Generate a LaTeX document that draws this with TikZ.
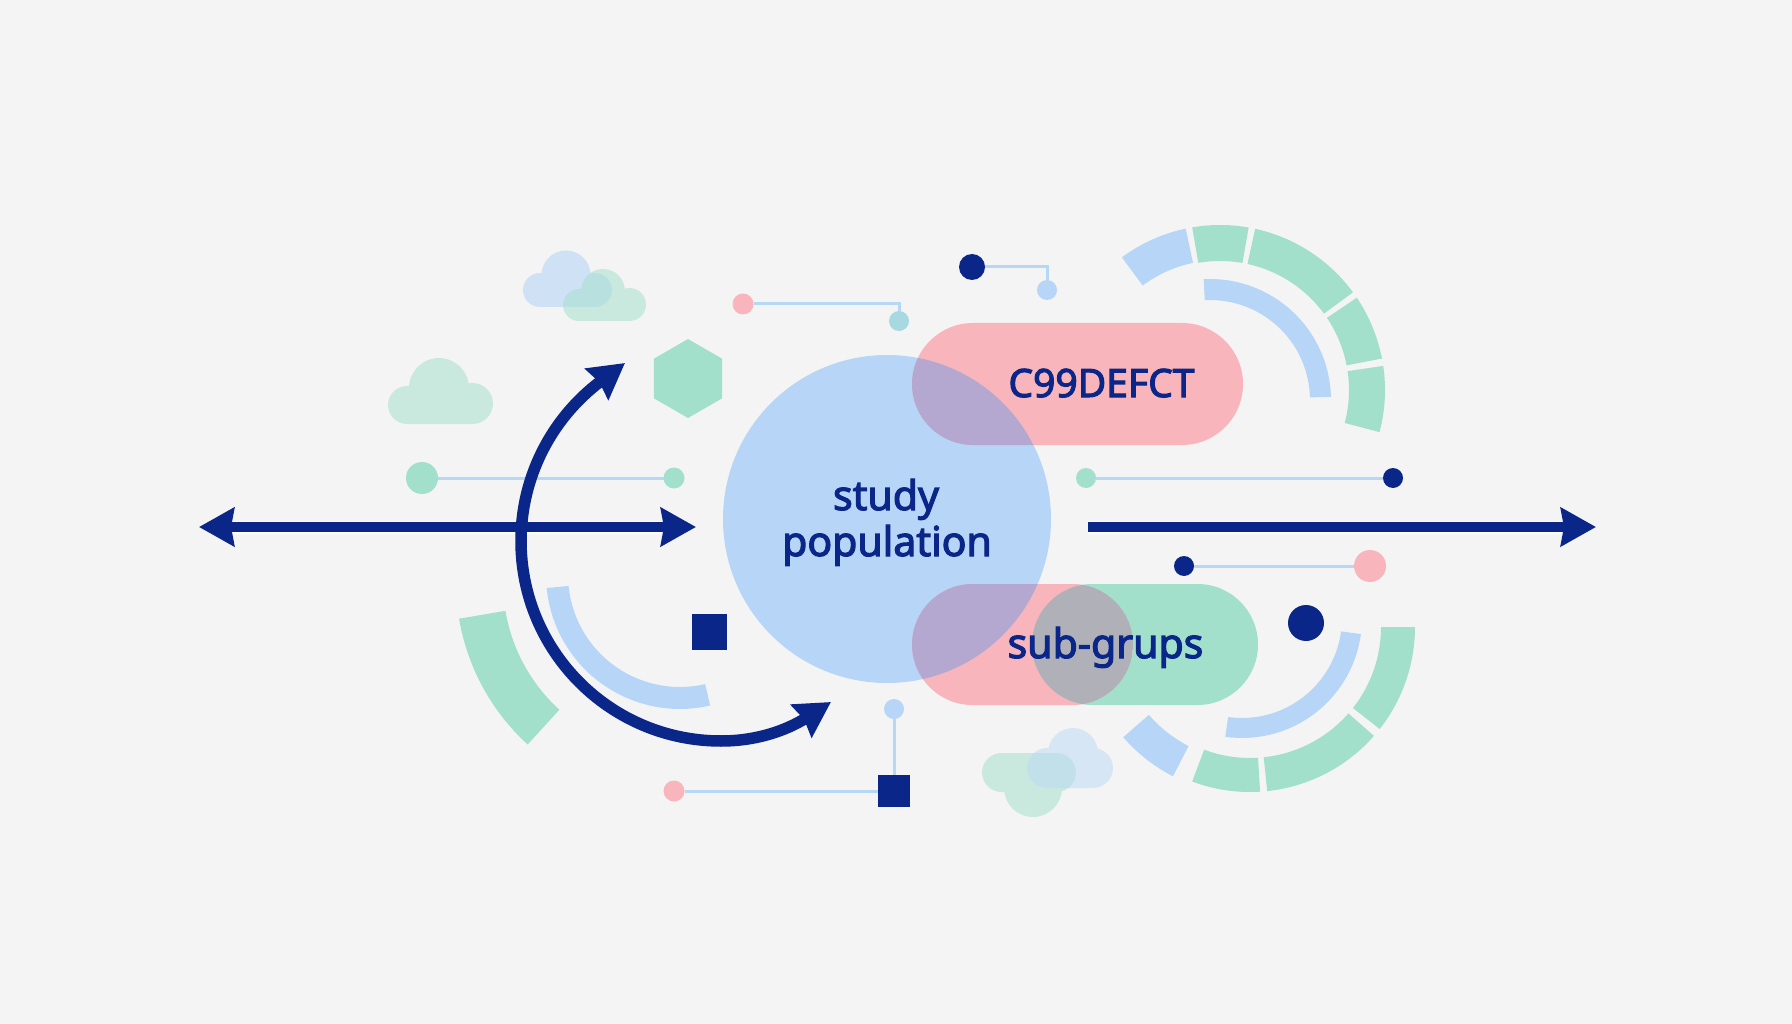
\documentclass[tikz,border=0pt]{standalone}
\usepackage{fontspec}
\setmainfont[FakeBold=2.8]{Noto Sans}
\usetikzlibrary{arrows.meta,shapes.geometric}
\definecolor{bgc}{HTML}{F3F4F3}
\definecolor{bluec}{HTML}{B7D6F7}
\definecolor{redc}{HTML}{F8B6BC}
\definecolor{greenc}{HTML}{A3E0CB}
\definecolor{navyc}{HTML}{0A2688}
\definecolor{purplec}{HTML}{B4A8D0}
\definecolor{grayc}{HTML}{B0B0B8}
\definecolor{tealc}{HTML}{A8D8E0}
\definecolor{linec}{HTML}{B4D8F5}
\tikzset{
  dot/.style={circle,inner sep=0pt,outer sep=0pt,draw=none},
  sq/.style={rectangle,inner sep=0pt,outer sep=0pt,fill=navyc,draw=none},
  thinline/.style={draw=linec,line width=3pt},
  bigarrow/.style={draw=navyc,line width=10.5pt},
  halo/.style={draw=white,line width=13pt,opacity=.8},
  lbl/.style={text=navyc,inner sep=0pt,align=center},
  lblbig/.style={lbl,font=\fontsize{41}{47}\selectfont},
}
\newcommand\ringseg[7]{%
  \fill[#1] plot[domain=#6:#7,samples=30] ({#2+#5*cos(\x)},{#3-#5*sin(\x)})
   -- plot[domain=#7:#6,samples=30] ({#2+#4*cos(\x)},{#3-#4*sin(\x)}) -- cycle;}
\begin{document}
\begin{tikzpicture}[x=1pt,y=-1pt]
\path[use as bounding box,fill=bgc] (0,0) rectangle (1792,1024);

% clouds
\begin{scope}[transparency group,opacity=.6]
 \fill[bluec] (566,275) circle[radius=24.5];
 \fill[bluec] (540,290) circle[radius=17];
 \fill[bluec] (595,290) circle[radius=17];
 \fill[bluec] (540,275) rectangle (595,307);
\end{scope}
\begin{scope}[transparency group,opacity=.5]
 \fill[greenc] (603,291) circle[radius=22];
 \fill[greenc] (579,305) circle[radius=16];
 \fill[greenc] (629.5,304.5) circle[radius=16.5];
 \fill[greenc] (579,291) rectangle (629.5,321);
\end{scope}
\begin{scope}[transparency group,opacity=.5]
 \fill[greenc] (439,388) circle[radius=30];
 \fill[greenc] (407,405) circle[radius=19];
 \fill[greenc] (472.5,403.5) circle[radius=20.5];
 \fill[greenc] (407,388) rectangle (472.5,424);
\end{scope}
\begin{scope}[transparency group,opacity=.5]
 \fill[greenc] (1001.5,772.5) circle[radius=19.5];
 \fill[greenc] (1056.5,772.5) circle[radius=19.5];
 \fill[greenc] (1001.5,753) rectangle (1056.5,792);
 \fill[greenc] (1033,788) circle[radius=29];
\end{scope}
\begin{scope}[transparency group,opacity=.45]
 \fill[bluec] (1073,753) circle[radius=25];
 \fill[bluec] (1047,768) circle[radius=20];
 \fill[bluec] (1093,768) circle[radius=20];
 \fill[bluec] (1047,753) rectangle (1093,788);
\end{scope}

% ring segments, upper right
\ringseg{bluec}{1220}{390}{130}{165}{102}{126.5}
\ringseg{greenc}{1220}{390}{129}{165}{80}{99.7}
\ringseg{greenc}{1220}{390}{129}{165}{36.3}{77.7}
\ringseg{greenc}{1220}{390}{129}{165}{11}{34}
\ringseg{greenc}{1220}{390}{129}{165}{-14.8}{8.4}
\ringseg{bluec}{1210}{400}{100}{121}{1.5}{93}
% ring segments, lower right
\ringseg{greenc}{1250}{627}{131}{165}{-38.2}{0}
\ringseg{greenc}{1250}{627}{131}{165}{-84}{-41.3}
\ringseg{greenc}{1250}{627}{131}{165}{-110.5}{-86.5}
\ringseg{bluec}{1250}{627}{134}{168}{-139}{-117.3}
\ringseg{bluec}{1242}{618}{100}{120}{-98}{-7.7}
% ring segments, left
\ringseg{greenc}{676}{582}{173}{220}{189.6}{227.6}
\ringseg{bluec}{680}{575}{112}{134}{185.6}{283}

% main shapes with explicit overlap colours
\fill[bluec] (887,519) circle[radius=164];
\fill[redc,rounded corners=61pt] (912,323) rectangle (1243,445);
\fill[greenc,rounded corners=60.5pt] (1032,584) rectangle (1258,705);
\fill[redc,rounded corners=60.5pt] (912,584) rectangle (1133,705);
\begin{scope}
 \clip[rounded corners=60.5pt] (1032,584) rectangle (1258,705);
 \clip[rounded corners=60.5pt] (912,584) rectangle (1133,705);
 \fill[grayc] (1032,584) rectangle (1133,705);
\end{scope}
\begin{scope}
 \clip[rounded corners=61pt] (912,323) rectangle (1243,445);
 \fill[purplec] (887,519) circle[radius=164];
\end{scope}
\begin{scope}
 \clip[rounded corners=60.5pt] (912,584) rectangle (1133,705);
 \fill[purplec] (887,519) circle[radius=164];
\end{scope}

% decorative shapes
\node[regular polygon,regular polygon sides=6,shape border rotate=30,fill=greenc,inner sep=0pt,minimum size=79pt,outer sep=0pt] (hex) at (688,378.5) {};
\node[sq,minimum width=35pt,minimum height=36pt] (sqa) at (709.5,632) {};
\node[dot,fill=navyc,minimum size=36pt] (bigdot) at (1306,623) {};

% connector end points
\node[dot,fill=greenc,minimum size=32pt] (la) at (422,478) {};
\node[dot,fill=greenc,minimum size=21pt] (lb) at (674,478) {};
\node[dot,fill=greenc,minimum size=20pt] (ra) at (1086,478) {};
\node[dot,fill=navyc,minimum size=20pt] (rb) at (1393,478) {};
\node[dot,fill=navyc,minimum size=20pt] (ma) at (1184,566) {};
\node[dot,fill=redc,minimum size=32pt] (mb) at (1370,566) {};
\node[dot,fill=redc,minimum size=21pt] (ta) at (743,304) {};
\node[dot,fill=tealc,minimum size=20pt] (tb) at (899,321) {};
\node[dot,fill=navyc,minimum size=26pt] (ua) at (972,267) {};
\node[dot,fill=bluec,minimum size=20pt] (ub) at (1047,290) {};
\node[dot,fill=bluec,minimum size=20pt] (ba) at (894,709) {};
\node[sq,minimum size=32pt] (bb) at (894,791) {};
\node[dot,fill=redc,minimum size=21pt] (bc) at (674,791) {};
\draw[thinline] (la) -- (lb);
\draw[thinline] (ra) -- (rb);
\draw[thinline] (ma) -- (mb);
\draw[thinline] (ta) -| (tb);
\draw[thinline] (ua) -| (ub);
\draw[thinline] (ba) -- (bb);
\draw[thinline] (bc) -- (bb);

% arrows
\coordinate (aL) at (199,527);
\coordinate (aR) at (696,527);
\coordinate (bL) at (1088,527);
\coordinate (bR) at (1596,527);
\coordinate (cT) at (625,363);
\coordinate (cB) at (831,702);
\draw[halo] (232,527) -- (662,527);
\draw[halo] (1088,527) -- (1562,527);
\draw[bigarrow,{Stealth[length=35pt,width=38pt,inset=3pt]}-{Stealth[length=35pt,width=38pt,inset=3pt]}] (aL) -- (aR);
\draw[bigarrow,-{Stealth[length=35pt,width=38pt,inset=3pt]}] (bL) -- (bR);
\draw[bigarrow,line width=11.5pt,{Stealth[length=35pt,width=38pt,inset=3pt]}-{Stealth[length=35pt,width=38pt,inset=3pt]}] (cT) -- (601,381) .. controls (550.6,418.8) and (521,478) .. (521,541) .. controls (521,651.5) and (610.5,741) .. (721,741) .. controls (765,741) and (795,725) .. (cB);

% labels
\node[lblbig,anchor=base] (study) at (886,510) {study};
\node[lblbig,anchor=base] (pop) at (887,556) {population};
\node[lbl,font=\fontsize{39}{47}\selectfont,anchor=base] (defect) at (1101.5,397) {C99DEFCT};
\node[lblbig,anchor=base] (sub) at (1105.5,658) {sub-grups};
\end{tikzpicture}
\end{document}
